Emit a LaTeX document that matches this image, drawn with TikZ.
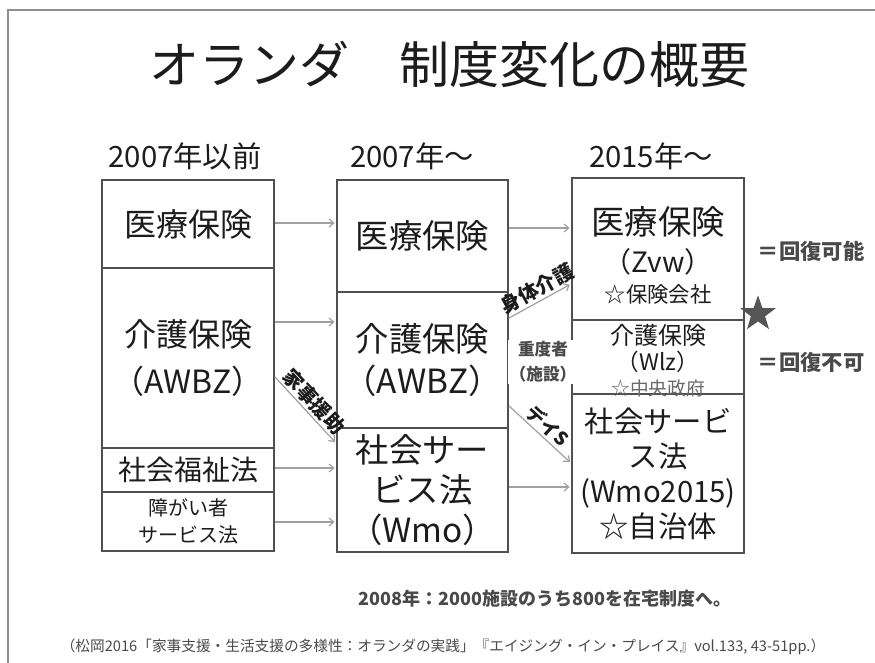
\documentclass[tikz,border=0pt]{standalone}
\usepackage{fontspec}
\setmainfont{Noto Sans CJK JP}
\usetikzlibrary{fit,shapes.geometric,arrows.meta}
\definecolor{framec}{HTML}{8E8E8E}
\definecolor{boxc}{HTML}{505050}
\definecolor{arrc}{HTML}{A0A0A0}
\definecolor{inkc}{HTML}{1C1C1C}
\definecolor{softc}{HTML}{4A4A4A}
\definecolor{lightc}{HTML}{6A6A6A}
\definecolor{starc}{HTML}{555555}
\newcommand{\fsz}[2]{\fontsize{#1}{#2}\selectfont}
\begin{document}
\begin{tikzpicture}[x=0.75pt,y=-0.75pt,
  boxn/.style={draw=boxc, line width=1.6pt, inner sep=0pt},
  lbl/.style={text=inkc, align=center, inner sep=0pt},
  arr/.style={draw=arrc, line width=0.9pt, shorten >=1pt, -{Straight Barb[length=3.5pt,width=6pt]}},
  diag/.style={text=inkc, font=\bfseries\fsz{15}{17}, inner sep=1.5pt},
]
\useasboundingbox[fill=white] (0,0) rectangle (875,663);
\draw[framec, line width=1.5pt] (8,663) -- (8,10.5) -- (875,10.5);

% title and headers
\node[lbl, font=\fsz{37.5}{40}] (title) at (449,64) {オランダ　制度変化の概要};
\node[lbl, font=\fsz{22}{24}] (h1) at (185,156) {2007年以前};
\node[lbl, font=\fsz{22}{24}] (h2) at (412,156) {2007年～};
\node[lbl, font=\fsz{22}{24}] (h3) at (651,156) {2015年～};

% column 1
\node[boxn, fit={(102,180) (274,268)}] (c1a) {};
\node[boxn, fit={(102,268) (274,448)}] (c1b) {};
\node[boxn, fit={(102,448) (274,492)}] (c1c) {};
\node[boxn, fit={(102,492) (274,551)}] (c1d) {};
\node[lbl, font=\fsz{24}{28}] (t1a) at (c1a) {医療保険};
\node[lbl, font=\fsz{24}{35}] (t1b) at (c1b) {介護保険\\（AWBZ）};
\node[lbl, font=\fsz{21}{24}] (t1c) at (c1c) {社会福祉法};
\node[lbl, font=\fsz{15}{20}] (t1d) at (c1d) {障がい者\\サービス法};

% column 2
\node[boxn, fit={(337,180) (508,292)}] (c2a) {};
\node[boxn, fit={(337,292) (508,428)}] (c2b) {};
\node[boxn, fit={(337,428) (508,552)}] (c2c) {};
\node[lbl, font=\fsz{25}{28}] (t2a) at (c2a) {医療保険};
\node[lbl, font=\fsz{25}{31.5}] (t2b) at (c2b) {介護保険\\（AWBZ）};
\node[lbl, font=\fsz{25}{30}] (t2c) at (c2c) {社会サー\\ビス法\\（Wmo）};

% column 3
\node[boxn, fit={(572,178) (744,320)}] (c3a) {};
\node[boxn, fit={(572,320) (744,394)}] (c3b) {};
\node[boxn, fit={(572,394) (744,553)}] (c3c) {};
\node[lbl, font=\fsz{25}{28}] (t3a1) at (658,222) {医療保険};
\node[lbl, font=\fsz{21}{24}] (t3a2) at (658,262) {（Zvw）};
\node[lbl, font=\fsz{16}{18}] (t3a3) at (658,294) {☆保険会社};
\node[lbl, font=\fsz{18}{20}] (t3b1) at (658,335) {介護保険};
\node[lbl, font=\fsz{17}{19}] (t3b2) at (658,362) {（Wlz）};
\node[lbl, font=\fsz{14}{16}, text=lightc] (t3b3) at (658,388) {☆中央政府};
\node[lbl, font=\fsz{22}{26.25}] (t3c) at (c3c) {社会サービ\\ス法\\(Wmo2015)\\☆自治体};

% level coordinates
\coordinate (y223) at (0,223);
\coordinate (y322) at (0,322);
\coordinate (y468) at (0,468);
\coordinate (y522) at (0,522);
\coordinate (y228) at (0,228);
\coordinate (y363) at (0,363);
\coordinate (y487) at (0,487);
\coordinate (y377) at (0,377);
\coordinate (y443) at (0,443);
\coordinate (y318) at (0,318);
\coordinate (y284) at (0,284);
\coordinate (y406) at (0,406);
\coordinate (y463) at (0,463);

% arrows column 1 -> column 2
\draw[arr] (c1a.east |- y223) -- (c2a.west |- y223);
\draw[arr] (c1b.east |- y322) -- (c2b.west |- y322);
\draw[arr] (c1c.east |- y468) -- (c2c.west |- y468);
\draw[arr] (c1d.east |- y522) -- (c2c.west |- y522);
\draw[arr] (c1b.east |- y377) -- (c2c.west |- y443)
  node[midway, above, sloped, diag] (kaji) {家事援助};

% arrows column 2 -> column 3
\draw[arr] (c2a.east |- y228) -- (c3a.west |- y228);
\draw[arr] (c2c.east |- y487) -- (c3c.west |- y487);
\draw[arr] (c2b.east |- y318) -- (c3a.west |- y284)
  node[pos=0.55, above, sloped, diag] (shintai) {身体介護};
\draw[arr] (c2b.east |- y406) -- (c3c.west |- y463)
  node[midway, above, sloped, diag, font=\bfseries\fsz{14}{16}] (day) {デイS};
\draw[arr] (c2b.east |- y363) -- (c3b.west |- y363);
\node[lbl, font=\bfseries\fsz{12.5}{19}, text=softc, fill=white, inner sep=1pt] (judo) at (543,362) {重度者\\（施設）};

% star and side labels
\node[star, star points=5, star point ratio=2.5, fill=starc, inner sep=0pt, minimum size=28pt] (star) at (758,314) {};
\node[lbl, font=\bfseries\fsz{16}{18}, text=softc] (kahi1) at (811,251) {＝回復可能};
\node[lbl, font=\bfseries\fsz{16}{18}, text=softc] (kahi2) at (811,362) {＝回復不可};

% notes
\node[lbl, font=\bfseries\fsz{13.5}{16}, text=softc] (note) at (545,599) {2008年：2000施設のうち800を在宅制度へ。};
\node[lbl, font=\fsz{11}{13}, text=softc] (cite) at (443,647) {（松岡2016「家事支援・生活支援の多様性：オランダの実践」『エイジング・イン・プレイス』vol.133, 43-51pp.）};
\end{tikzpicture}
\end{document}
